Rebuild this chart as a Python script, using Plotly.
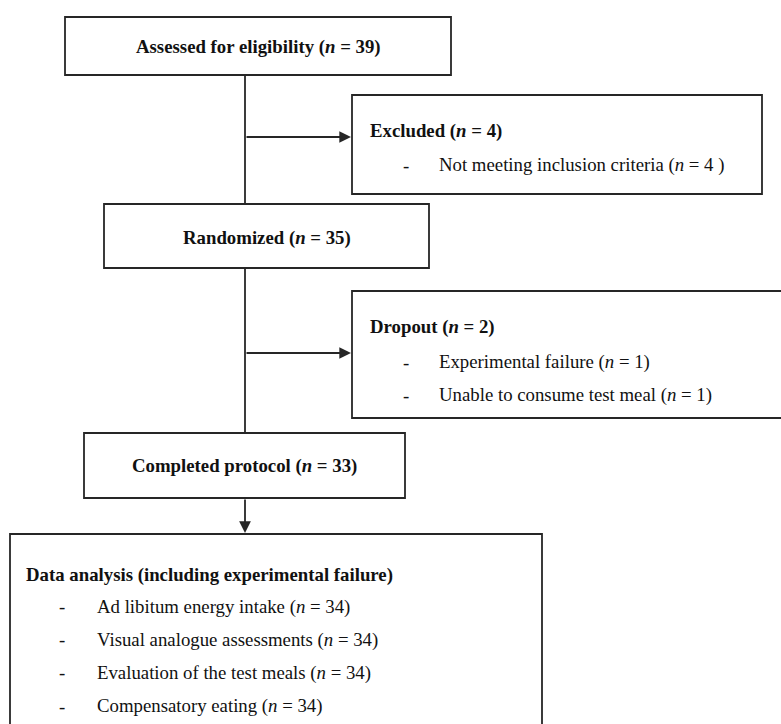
import plotly.graph_objects as go

# ---- data ----
stage_labels = ["Assessed for eligibility", "Randomized", "Completed protocol"]
stage_n = [39, 35, 33]

excluded_title = "Excluded"
excluded_n = 4
excluded_reasons = ["Not meeting inclusion criteria"]
excluded_reason_n = ["4 "]

dropout_title = "Dropout"
dropout_n = 2
dropout_reasons = ["Experimental failure", "Unable to consume test meal"]
dropout_reason_n = [1, 1]

analysis_title = "Data analysis (including experimental failure)"
analysis_items = ["Ad libitum energy intake", "Visual analogue assessments",
                  "Evaluation of the test meals", "Compensatory eating"]
analysis_n = [34, 34, 34, 34]

# ---- layout geometry (page pixels, y downwards) ----
W, H = 781, 724
FONT = "Palatino Linotype, Book Antiqua, P052, Liberation Serif, serif"
LINE = "#262626"
LW = 1.8
FS = 18.8

stage_boxes = [(65, 17, 451, 75), (104, 204, 429, 268), (84, 433, 405, 498)]
side_boxes = [(352, 95, 762, 194), (352, 291, 800, 418)]
analysis_box = (10, 534, 542, 760)

fig = go.Figure()
shapes = []
annotations = []

def rect(b):
    shapes.append(dict(type="rect", xref="x", yref="y", x0=b[0], y0=b[1], x1=b[2], y1=b[3],
                       line=dict(color=LINE, width=LW), fillcolor="white", layer="above"))

def line(x0, y0, x1, y1):
    shapes.append(dict(type="line", xref="x", yref="y", x0=x0, y0=y0, x1=x1, y1=y1,
                       line=dict(color=LINE, width=LW), layer="above"))

def arrow(x0, y0, x1, y1):
    annotations.append(dict(x=x1, y=y1, ax=x0, ay=y0, xref="x", yref="y", axref="x", ayref="y",
                            text="", showarrow=True, arrowhead=2, arrowsize=1.3,
                            arrowwidth=LW, arrowcolor=LINE))

def text(x, y, s, anchor="left"):
    annotations.append(dict(x=x, y=y, xref="x", yref="y", text=s, showarrow=False,
                            xanchor=anchor, yanchor="middle",
                            font=dict(family=FONT, size=FS, color="#111111")))

for b in stage_boxes + side_boxes + [analysis_box]:
    rect(b)

cx = 245
line(cx, 75, cx, 204)
arrow(cx, 137, 351, 137)
line(cx, 268, cx, 433)
arrow(cx, 353, 351, 353)
arrow(cx, 498, cx, 533)

stage_y = [47, 238, 466]
for (b, lab, n, y) in zip(stage_boxes, stage_labels, stage_n, stage_y):
    text((b[0] + b[2]) / 2, y, f"<b>{lab} (<i>n</i> = {n})</b>", anchor="center")

text(368, 131, f"<b>{excluded_title} (<i>n</i> = {excluded_n})</b>")
for i, (r, n) in enumerate(zip(excluded_reasons, excluded_reason_n)):
    y = 165 + i * 33
    text(401, y, "-")
    text(437, y, f"{r} (<i>n</i> = {n})")

text(368, 327, f"<b>{dropout_title} (<i>n</i> = {dropout_n})</b>")
for i, (r, n) in enumerate(zip(dropout_reasons, dropout_reason_n)):
    y = 362 + i * 33
    text(401, y, "-")
    text(437, y, f"{r} (<i>n</i> = {n})")

text(24, 575, f"<b>{analysis_title}</b>")
for i, (r, n) in enumerate(zip(analysis_items, analysis_n)):
    y = 606.5 + i * 33.2
    text(57, y, "-")
    text(95, y, f"{r} (<i>n</i> = {n})")

fig.update_layout(
    width=W, height=H,
    margin=dict(l=0, r=0, t=0, b=0),
    paper_bgcolor="white", plot_bgcolor="white",
    xaxis=dict(range=[0, W], visible=False, fixedrange=True),
    yaxis=dict(range=[H, 0], visible=False, fixedrange=True),
    shapes=shapes, annotations=annotations, showlegend=False,
)
fig.write_html(
    "out.html",
    config={"displayModeBar": False, "staticPlot": True},
    post_script="document.body.style.margin='0';document.body.style.overflow='hidden';",
)
